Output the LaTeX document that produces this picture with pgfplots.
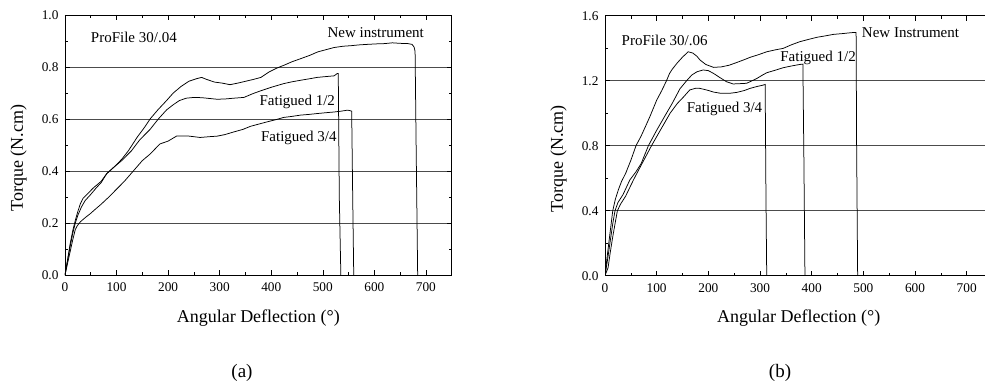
\documentclass[border=0pt]{standalone}
\usepackage{pgfplots}
\pgfplotsset{compat=1.18}
\usepackage{fontspec}
\setmainfont{Liberation Serif}
\newfontfamily\tms{Liberation Serif}
\tikzset{lab/.style={font=\tms\fontsize{15}{17}\selectfont, anchor=west, inner sep=0pt},
  crv/.style={black, line width=0.75pt, mark=none}}
\pgfplotsset{
  myax/.style={
    scale only axis,
    anchor=south west,
    xmin=0, xmax=750,
    xtick={0,100,...,700},
    minor x tick num=1,
    minor y tick num=1,
    tick align=inside,
    tick pos=both,
    major tick length=5pt,
    minor tick length=3pt,
    ymajorgrids,
    major grid style={black!70, line width=0.7pt},
    axis line style={line width=0.8pt},
    every tick/.style={black, line width=0.6pt},
    /pgf/number format/assume math mode=true,
    tick label style={font=\tms\fontsize{13.3}{15}\selectfont},
    yticklabel style={/pgf/number format/fixed, /pgf/number format/fixed zerofill, /pgf/number format/precision=1, xshift=-3pt},
    xticklabel style={yshift=-4pt},
    label style={font=\tms\fontsize{18}{20}\selectfont},
    xlabel={Angular Deflection (°)},
    ylabel={Torque (N.cm)},
    xlabel style={at={(axis description cs:0.5,-0.165)}, anchor=center},
    ylabel style={at={(axis description cs:-0.12,0.45)}, anchor=center},
    clip=true,
  },
}
\begin{document}
\begin{tikzpicture}
\path[use as bounding box] (0,0) rectangle (985pt,389pt);
\clip (0,0) rectangle (985pt,389pt);
% ---------------- (a)
\begin{axis}[myax, at={(65pt,114pt)}, width=386.7pt, height=260pt,
  ymin=0, ymax=1.0, ytick={0,0.2,...,1.0}]
\addplot[crv] coordinates {(0,0) (5,0.06) (10,0.12) (15,0.17) (20,0.21) (25,0.245) (30,0.275) (35,0.295) (45,0.315) (55,0.335) (70,0.36) (81,0.39) (95,0.415) (110,0.445) (123,0.478) (140,0.53) (155,0.57) (165,0.60) (180,0.635) (197,0.671) (210,0.70) (225,0.725) (240,0.745) (255,0.755) (265,0.76) (275,0.752) (290,0.742) (305,0.738) (320,0.732) (335,0.738) (350,0.745) (365,0.752) (380,0.76) (395,0.78) (410,0.795) (425,0.807) (440,0.82) (457,0.832) (475,0.845) (490,0.858) (505,0.866) (522,0.875) (540,0.88) (555,0.882) (570,0.885) (586,0.887) (605,0.889) (620,0.89) (635,0.893) (650,0.891) (665,0.89) (673,0.887) (677,0.877) (679,0.86) (681,0.5) (684,0)};
\addplot[crv] coordinates {(0,0) (5,0.055) (10,0.11) (15,0.16) (20,0.20) (25,0.23) (32,0.262) (39,0.286) (50,0.31) (61,0.336) (70,0.355) (81,0.39) (95,0.415) (110,0.44) (129,0.478) (145,0.52) (165,0.56) (181,0.60) (197,0.635) (210,0.655) (222,0.671) (235,0.68) (250,0.683) (265,0.682) (280,0.679) (295,0.676) (310,0.677) (327,0.68) (347,0.683) (365,0.698) (379,0.708) (400,0.722) (424,0.736) (440,0.743) (457,0.749) (475,0.755) (489,0.76) (505,0.763) (522,0.766) (528,0.775) (530,0.775) (532,0.3) (535,0)};
\addplot[crv] coordinates {(0,0) (5,0.045) (10,0.09) (15,0.135) (20,0.175) (24,0.19) (30,0.205) (40,0.222) (48.5,0.235) (60,0.255) (70,0.272) (84,0.298) (100,0.33) (115,0.36) (132.5,0.40) (150,0.44) (165,0.465) (184,0.504) (200,0.515) (217,0.535) (237,0.535) (250,0.532) (262,0.529) (280,0.532) (295,0.534) (310,0.54) (327,0.55) (345,0.56) (360,0.572) (375,0.58) (392,0.589) (410,0.598) (424,0.606) (440,0.61) (457,0.615) (475,0.618) (489,0.621) (505,0.624) (522,0.627) (535,0.630) (548,0.634) (553,0.632) (556,0.63) (558,0.3) (560,0)};
\node[lab] at (axis cs:50,0.915) {ProFile 30/.04};
\node[lab] at (axis cs:509,0.933) {New instrument};
\node[lab] at (axis cs:377,0.667) {Fatigued 1/2};
\node[lab] at (axis cs:380,0.526) {Fatigued 3/4};
\end{axis}
% ---------------- (b)
\begin{axis}[myax, at={(605pt,113.3pt)}, width=387.5pt, height=260pt,
  ymin=0, ymax=1.6, ytick={0,0.4,...,1.6}]
\addplot[crv] coordinates {(0,0) (5,0.14) (10,0.27) (15,0.40) (20,0.47) (26,0.53) (32,0.58) (40,0.63) (50,0.71) (60,0.80) (70,0.86) (80,0.93) (87,0.98) (100,1.08) (110,1.14) (119,1.20) (125,1.245) (130,1.27) (140,1.31) (150,1.345) (161,1.378) (170,1.37) (178,1.35) (184,1.327) (195,1.30) (210,1.282) (225,1.285) (240,1.295) (255,1.312) (270,1.33) (281,1.344) (297,1.36) (313,1.378) (330,1.39) (345,1.399) (360,1.42) (377,1.44) (395,1.455) (410,1.467) (425,1.475) (442,1.485) (460,1.49) (475,1.495) (483,1.497) (486,1.497) (487,0.8) (489,0)};
\addplot[crv] coordinates {(0,0) (5,0.1) (10,0.21) (15,0.32) (19.4,0.40) (25,0.45) (35,0.50) (48,0.589) (60,0.64) (70,0.69) (84,0.80) (100,0.895) (119,1.00) (130,1.06) (145,1.15) (158,1.20) (168,1.235) (178,1.255) (190,1.266) (200,1.262) (210,1.245) (222,1.22) (235,1.194) (248,1.18) (262,1.182) (274,1.184) (285,1.20) (294,1.214) (305,1.235) (313,1.249) (330,1.265) (345,1.28) (360,1.29) (377,1.30) (383,1.302) (385,0.7) (387,0)};
\addplot[crv] coordinates {(0,0) (6,0.05) (10,0.14) (15,0.24) (20,0.33) (24,0.40) (30,0.44) (40,0.49) (55,0.589) (70,0.68) (90,0.80) (108,0.90) (126,1.00) (140,1.06) (152,1.10) (164,1.143) (175,1.153) (183,1.153) (190,1.148) (200,1.14) (210,1.13) (225,1.122) (240,1.122) (255,1.128) (270,1.14) (281,1.153) (295,1.165) (305,1.172) (310,1.177) (311.5,0.5) (313,0)};
\node[lab] at (axis cs:32,1.446) {ProFile 30/.06};
\node[lab] at (axis cs:497,1.498) {New Instrument};
\node[lab] at (axis cs:339,1.338) {Fatigued 1/2};
\node[lab] at (axis cs:158,1.024) {Fatigued 3/4};
\end{axis}
\node[font=\tms\fontsize{19}{21}\selectfont] at (242pt,16pt) {(a)};
\node[font=\tms\fontsize{19}{21}\selectfont] at (780pt,16pt) {(b)};
\end{tikzpicture}
\end{document}
